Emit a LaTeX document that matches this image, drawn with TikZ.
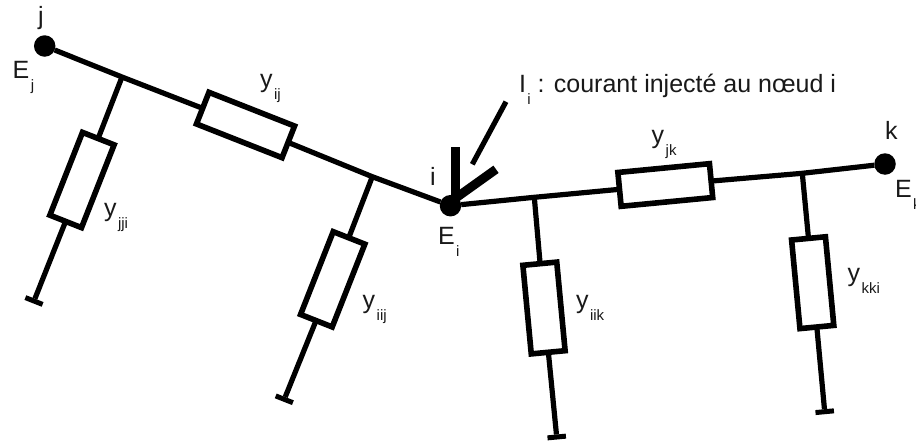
\documentclass[tikz,border=0pt]{standalone}
\usepackage{fontspec}
\setmainfont{Liberation Sans}
\newcommand{\subl}[1]{\kern1.5pt\lower12pt\hbox{\fontsize{15}{15}\selectfont #1}}
\tikzset{
  wire/.style={line width=5.2pt},
  res/.style={draw,fill=white,line width=5.6pt,rectangle,inner sep=0pt,outer sep=0pt},
  hres/.style={res,minimum width=92pt,minimum height=34pt},
  vres/.style={res,minimum width=34pt,minimum height=89pt},
  bus/.style={circle,fill=black,minimum size=21.5pt,inner sep=0pt,outer sep=0pt},
  gnd/.style={rectangle,fill=black,minimum width=18.5pt,minimum height=5pt,inner sep=0pt,outer sep=0pt},
  lab/.style={anchor=base west,inner sep=0pt,outer sep=0pt,font=\fontsize{25}{25}\selectfont,text=black!90},
  inj/.style={line width=9pt}
}
\begin{document}
\begin{tikzpicture}[x=1pt,y=-1pt]
\useasboundingbox (0,0) rectangle (916,442);
\clip (0,0) rectangle (916,442);
\fill[white] (0,0) rectangle (916,442);
% buses
\node[bus] (j) at (44.7,46) {};
\node[bus] (i) at (450.5,205.7) {};
\node[bus] (k) at (885,164) {};
% series admittances
\node[hres,rotate=-21.5] (yij) at (245.5,125) {};
\node[hres,rotate=5.48] (yjk) at (665.3,185) {};
% shunt admittances
\node[vres,rotate=-21.5] (yjji) at (82,180) {};
\node[vres,rotate=-21.5] (yiij) at (332.7,279.3) {};
\node[vres,rotate=5.4] (yiik) at (544,308) {};
\node[vres,rotate=5.4] (ykki) at (812.7,282.7) {};
% ground caps
\node[gnd,rotate=-21.5] (gj) at (34,301) {};
\node[gnd,rotate=-21.5] (gi) at (284.3,399.3) {};
\node[gnd,rotate=5.4] (gk1) at (556.7,437) {};
\node[gnd,rotate=5.4] (gk2) at (824.7,411.7) {};
% junctions
\coordinate (tj) at (122,77);
\coordinate (ti) at (372.3,176.7);
\coordinate (tk1) at (534.3,197.3);
\coordinate (tk2) at (802.3,173.3);
% injection
\coordinate (injA) at (455.3,146.7);
\coordinate (injB) at (496,169.3);
\coordinate (injBaseA) at (455.3,204);
\coordinate (injBaseB) at (453,200);
\coordinate (arA) at (506,101.7);
\coordinate (arB) at (472.3,164.3);
% wires
\draw[wire] (j) -- (tj) -- (yij);
\draw[wire] (yij) -- (ti) -- (i);
\draw[wire] (i) -- (tk1) -- (yjk);
\draw[wire] (yjk) -- (tk2) -- (k);
\draw[wire] (tj) -- (yjji);
\draw[wire] (yjji) -- (gj);
\draw[wire] (ti) -- (yiij);
\draw[wire] (yiij) -- (gi);
\draw[wire] (tk1) -- (yiik);
\draw[wire] (yiik) -- (gk1);
\draw[wire] (tk2) -- (ykki);
\draw[wire] (ykki) -- (gk2);
\draw[inj] (injBaseA) -- (injA);
\draw[inj] (injBaseB) -- (injB);
\draw[wire] (arA) -- (arB);
% labels
\node[lab] (lj) at (38,24) {j};
\node[lab] (lEj) at (12.7,78.3) {E\subl{j}};
\node[lab] (li) at (430,185) {i};
\node[lab] (lEi) at (438,244) {E\subl{i}};
\node[lab] (lk) at (885,139) {k};
\node[lab] (lEk) at (895,197) {E\subl{k}};
\node[lab] (lyij) at (260,87.5) {y\subl{ij}};
\node[lab] (lyjji) at (104,216.5) {y\subl{jji}};
\node[lab] (lyiij) at (362.7,308) {y\subl{iij}};
\node[lab] (lyjk) at (651.7,143) {y\subl{jk}};
\node[lab] (lyiik) at (576,308) {y\subl{iik}};
\node[lab] (lykki) at (847.7,281.7) {y\subl{kki}};
\node[lab] (lI) at (519,92.7) {I\subl{i} : courant injecté au nœud i};
\end{tikzpicture}
\end{document}
